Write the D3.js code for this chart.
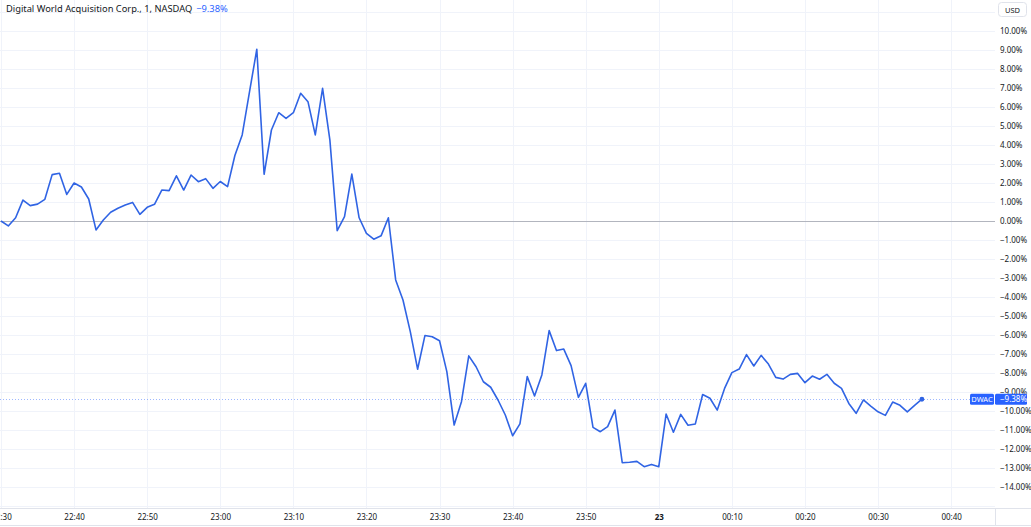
<!DOCTYPE html>
<html>
<head>
<meta charset="utf-8">
<script src="https://cdn.jsdelivr.net/npm/d3@7"></script>
<style>
  body { margin: 0; background: #fff; }
  svg { display: block; font-family: "Noto Sans", sans-serif; }
</style>
</head>
<body>
<script>
const w = 1031;
const h = 527;
const plotRight = 995;
const axisY = 508;

const title = "Digital World Acquisition Corp., 1, NASDAQ";
const symbol = "DWAC";
const currency = "USD";
const startTime = "2021-10-22T22:30:00";

// 1-minute closes, % change
const pct2230 = [0.00, -0.26, 0.17, 1.10, 0.81, 0.89, 1.14, 2.44, 2.51, 1.40,
                 2.00, 1.79, 1.16, -0.47, 0.05, 0.46, 0.67, 0.84, 0.98, 0.35,
                 0.72, 0.88, 1.63, 1.60, 2.38, 1.63, 2.42, 2.07, 2.23, 1.72];
const pct2300 = [2.08, 1.81, 3.45, 4.53, 6.80, 9.04, 2.46, 4.79, 5.70, 5.40,
                 5.70, 6.72, 6.28, 4.53, 6.98, 4.26, -0.51, 0.23, 2.47, 0.17,
                 -0.65, -0.96, -0.78, 0.17, -3.10, -4.16, -5.82, -7.80, -6.03, -6.09];
const pct2330 = [-6.30, -7.93, -10.74, -9.51, -7.10, -7.67, -8.46, -8.75, -9.42, -10.21,
                 -11.30, -10.68, -8.19, -9.21, -8.10, -5.77, -6.82, -6.74, -7.61, -9.28,
                 -8.54, -10.86, -11.09, -10.82, -9.95, -12.72, -12.70, -12.65, -12.93, -12.81];
const pct0000 = [-12.93, -10.16, -11.12, -10.18, -10.75, -10.68, -9.13, -9.33, -9.95, -8.81,
                 -7.98, -7.79, -7.03, -7.63, -7.07, -7.53, -8.23, -8.32, -8.07, -8.02,
                 -8.51, -8.16, -8.33, -8.07, -8.54, -8.81, -9.60, -10.12, -9.42, -9.74,
                 -10.04, -10.23, -9.53, -9.70, -10.05, -9.70, -9.38];

const yTicks = d3.range(-14, 11);
const gridPct = d3.range(-15, 12);

const t0 = new Date(startTime);
const dataset = pct2230.concat(pct2300, pct2330, pct0000)
  .map((v, i) => ({date: d3.timeMinute.offset(t0, i), value: v}));
const last = dataset[dataset.length - 1];

const xScale = d3.scaleTime()
  .domain([t0, d3.timeMinute.offset(t0, 136.4)])
  .range([1, plotRight]);
const yScale = d3.scaleLinear()
  .domain([-15.105, 11.632])
  .range([axisY, 0]);

const timeTicks = d3.timeMinute.every(10).range(t0, d3.timeMinute.offset(t0, 137));
const fmtPct = v => (v < 0 ? "\u2212" : "") + Math.abs(v).toFixed(2) + "%";
const isDay = d => d.getHours() === 0 && d.getMinutes() === 0;
const fmtTime = d => isDay(d) ? d3.timeFormat("%d")(d) : d3.timeFormat("%H:%M")(d);

const svg = d3.select("body").append("svg")
  .attr("width", w)
  .attr("height", h);

// grid
svg.append("g").selectAll("line")
  .data(gridPct)
  .enter().append("line")
  .attr("x1", 0).attr("x2", plotRight)
  .attr("y1", d => Math.round(yScale(d)) + 0.5)
  .attr("y2", d => Math.round(yScale(d)) + 0.5)
  .attr("stroke", "#f0f3fa");

svg.append("g").selectAll("line")
  .data(timeTicks)
  .enter().append("line")
  .attr("x1", d => Math.round(xScale(d)) + 0.5)
  .attr("x2", d => Math.round(xScale(d)) + 0.5)
  .attr("y1", 0).attr("y2", axisY)
  .attr("stroke", "#f0f3fa");

// zero baseline
svg.append("line")
  .attr("x1", 0).attr("x2", plotRight)
  .attr("y1", Math.round(yScale(0)) + 0.5)
  .attr("y2", Math.round(yScale(0)) + 0.5)
  .attr("stroke", "#b2b5be");

// last value line
svg.append("line")
  .attr("x1", 0).attr("x2", plotRight)
  .attr("y1", Math.round(yScale(last.value)) + 0.5)
  .attr("y2", Math.round(yScale(last.value)) + 0.5)
  .attr("stroke", "#2962ff")
  .attr("stroke-opacity", 0.45)
  .attr("stroke-dasharray", "1,2");

// price line
const line = d3.line()
  .x(d => xScale(d.date))
  .y(d => yScale(d.value));

svg.append("path")
  .datum(dataset)
  .attr("d", line)
  .attr("fill", "none")
  .attr("stroke", "#3064e4")
  .attr("stroke-width", 1.6)
  .attr("stroke-linejoin", "round");

svg.append("circle")
  .attr("cx", xScale(last.date))
  .attr("cy", yScale(last.value))
  .attr("r", 2.4)
  .attr("fill", "#3064e4");

// axes
const yAxis = d3.axisRight(yScale)
  .tickValues(yTicks)
  .tickFormat(fmtPct)
  .tickSize(0)
  .tickPadding(0);

const yG = svg.append("g")
  .attr("transform", "translate(" + (plotRight + 5) + ",0)")
  .call(yAxis);
yG.select(".domain").remove();
yG.selectAll("text")
  .attr("fill", "#131722")
  .attr("font-size", "8px")
  .attr("font-family", "Noto Sans, sans-serif");

const xAxis = d3.axisBottom(xScale)
  .tickValues(timeTicks)
  .tickFormat(fmtTime)
  .tickSize(0)
  .tickPadding(6);

const xG = svg.append("g")
  .attr("transform", "translate(0," + axisY + ")")
  .call(xAxis);
xG.select(".domain").remove();
xG.selectAll("text")
  .attr("fill", "#131722")
  .attr("font-size", "8px")
  .attr("font-family", "Noto Sans, sans-serif")
  .attr("font-weight", d => isDay(d) ? "bold" : "normal");

// frame lines
svg.append("line")
  .attr("x1", 0).attr("x2", w)
  .attr("y1", axisY + 0.5).attr("y2", axisY + 0.5)
  .attr("stroke", "#e0e3eb");
svg.append("line")
  .attr("x1", 0).attr("x2", w)
  .attr("y1", 525.5).attr("y2", 525.5)
  .attr("stroke", "#e0e3eb");
svg.append("line")
  .attr("x1", plotRight + 0.5).attr("x2", plotRight + 0.5)
  .attr("y1", axisY).attr("y2", 526)
  .attr("stroke", "#e0e3eb");

// last value label
const ly = yScale(last.value);
svg.append("rect")
  .attr("x", 970).attr("y", ly - 5.5)
  .attr("width", 24).attr("height", 11)
  .attr("rx", 1.5)
  .attr("fill", "#2962ff");
svg.append("text")
  .attr("x", 982).attr("y", ly + 3)
  .attr("text-anchor", "middle")
  .attr("fill", "#fff")
  .attr("font-size", "7.5px")
  .text(symbol);
svg.append("rect")
  .attr("x", 995).attr("y", ly - 5.5)
  .attr("width", 32).attr("height", 11)
  .attr("rx", 1.5)
  .attr("fill", "#2962ff");
svg.append("text")
  .attr("x", 1000).attr("y", ly + 3)
  .attr("fill", "#fff")
  .attr("font-size", "8px")
  .text(fmtPct(last.value));

// header
const header = svg.append("text")
  .attr("x", 6).attr("y", 12)
  .attr("font-size", "9.3px")
  .attr("fill", "#131722");
header.append("tspan").text(title);
header.append("tspan")
  .attr("dx", 4)
  .attr("fill", "#2962ff")
  .text(fmtPct(last.value));

// currency box
svg.append("rect")
  .attr("x", 998.5).attr("y", 2.5)
  .attr("width", 28).attr("height", 14)
  .attr("rx", 3)
  .attr("fill", "#fff")
  .attr("stroke", "#e0e3eb");
svg.append("text")
  .attr("x", 1012.5).attr("y", 12.5)
  .attr("text-anchor", "middle")
  .attr("font-size", "7.5px")
  .attr("fill", "#131722")
  .text(currency);
</script>
</body>
</html>
